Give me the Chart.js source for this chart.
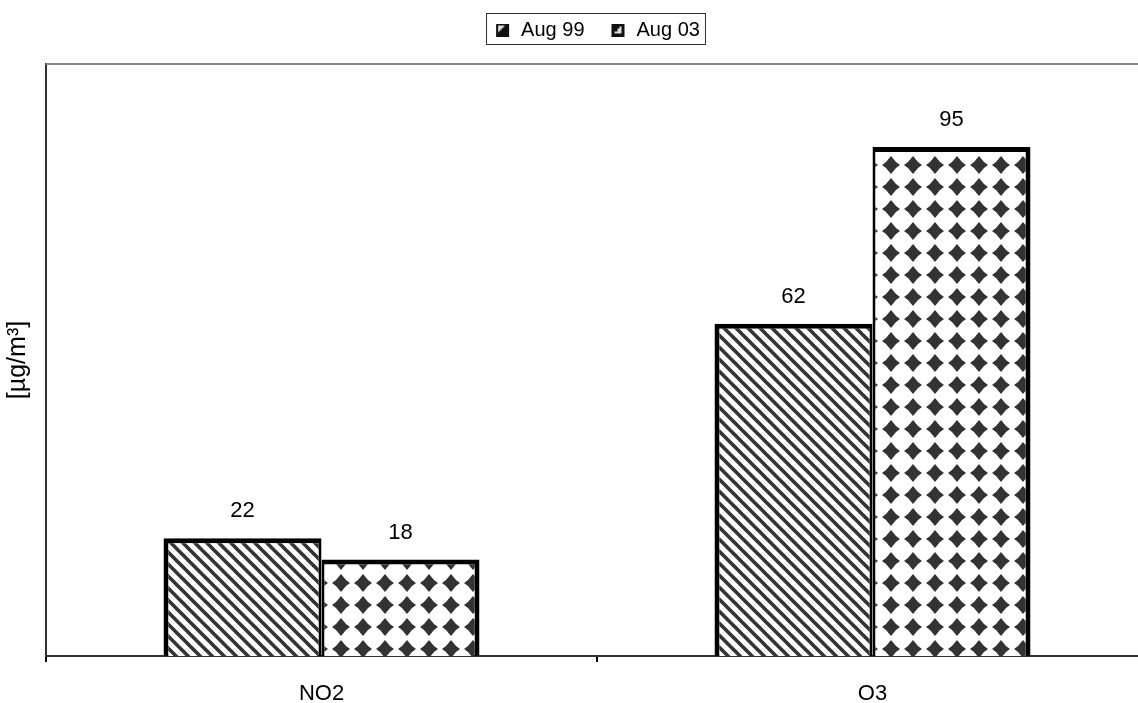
<!DOCTYPE html>
<html>
<head>
<meta charset="utf-8">
<script src="https://cdn.jsdelivr.net/npm/chart.js@4.4.0/dist/chart.umd.min.js"></script>
<style>
  html, body { margin: 0; padding: 0; background: #fff; overflow: hidden; }
  #wrap { width: 1138px; height: 703px; overflow: hidden; }
</style>
</head>
<body>
<div id="wrap"><canvas id="chart" width="1150" height="703"></canvas></div>
<script>
// data
const categories = ['NO2', 'O3'];
const seriesNames = ['Aug 99', 'Aug 03'];
const aug99 = [22, 62];
const aug03 = [18, 95];
const yMax = 110.5;

const FONT = '"Liberation Sans", Arial, sans-serif';

// hatch: diagonal stripes (top-left to bottom-right)
function makeStripes() {
    const c = document.createElement('canvas');
    c.width = 12; c.height = 12;
    const g = c.getContext('2d');
    g.fillStyle = '#fff';
    g.fillRect(0, 0, 12, 12);
    g.strokeStyle = '#333';
    g.lineWidth = 3.6;
    [-12, 0, 12].forEach(function(o) {
        g.beginPath();
        g.moveTo(o - 2, -2);
        g.lineTo(o + 14, 14);
        g.stroke();
    });
    return c;
}

// dotted diamonds on a square grid
function makeDiamonds() {
    const c = document.createElement('canvas');
    c.width = 22; c.height = 22;
    const g = c.getContext('2d');
    g.fillStyle = '#fff';
    g.fillRect(0, 0, 22, 22);
    g.fillStyle = '#333';
    g.beginPath();
    g.moveTo(11, 2);
    g.lineTo(16, 8);
    g.lineTo(20, 11);
    g.lineTo(16, 14);
    g.lineTo(11, 20);
    g.lineTo(6, 14);
    g.lineTo(2, 11);
    g.lineTo(6, 8);
    g.closePath();
    g.fill();
    return c;
}

// little legend swatches, with some room on the left
function makeSwatch(kind) {
    const c = document.createElement('canvas');
    c.width = 17; c.height = 13;
    const g = c.getContext('2d');
    g.translate(2, 0);
    g.fillStyle = '#111';
    g.fillRect(0, 0, 13, 13);
    g.fillStyle = '#ddd';
    g.beginPath();
    if (kind === 0) {
        g.moveTo(2, 2); g.lineTo(9, 2); g.lineTo(2, 9);
    } else {
        g.moveTo(10, 3); g.lineTo(10, 10); g.lineTo(3, 10); g.lineTo(3, 8);
        g.lineTo(6, 8); g.lineTo(6, 5); g.lineTo(8, 5); g.lineTo(8, 3);
    }
    g.closePath();
    g.fill();
    return c;
}

const ctx = document.getElementById('chart').getContext('2d');
const stripes = ctx.createPattern(makeStripes(), 'repeat');
const diamonds = ctx.createPattern(makeDiamonds(), 'repeat');
const swatches = [makeSwatch(0), makeSwatch(1)];

const valueLabels = {
    id: 'valueLabels',
    afterDatasetsDraw(chart) {
        const g = chart.ctx;
        g.save();
        g.font = '22px ' + FONT;
        g.fillStyle = '#000';
        g.textAlign = 'center';
        g.textBaseline = 'middle';
        chart.data.datasets.forEach(function(ds, i) {
            chart.getDatasetMeta(i).data.forEach(function(bar, j) {
                g.fillText(String(ds.data[j]), bar.x, bar.y - 27);
            });
        });
        g.restore();
    }
};

const frame = {
    id: 'frame',
    afterDraw(chart) {
        const g = chart.ctx;
        const a = chart.chartArea;
        g.save();
        g.strokeStyle = '#888';
        g.lineWidth = 2;
        g.beginPath();
        g.moveTo(a.left, a.top);
        g.lineTo(a.right, a.top);
        g.stroke();
        // box round the legend
        const hb = chart.legend.legendHitBoxes;
        if (hb && hb.length) {
            const first = hb[0], last = hb[hb.length - 1];
            const x0 = Math.round(first.left - 8) + 0.5;
            const x1 = Math.round(last.left + last.width + 5) + 0.5;
            g.strokeStyle = '#333';
            g.lineWidth = 1;
            g.strokeRect(x0, 13.5, x1 - x0, 31);
        }
        g.restore();
    }
};

new Chart(ctx, {
    type: 'bar',
    data: {
        labels: categories,
        datasets: [{
            label: seriesNames[0],
            data: aug99,
            backgroundColor: stripes,
            borderColor: '#000',
            borderWidth: { top: 5, left: 5, right: 3, bottom: 0 }
        }, {
            label: seriesNames[1],
            data: aug03,
            backgroundColor: diamonds,
            borderColor: '#000',
            borderWidth: { top: 5, left: 3, right: 5, bottom: 0 }
        }]
    },
    options: {
        responsive: false,
        animation: false,
        layout: { padding: { top: -5, right: 2, left: 0, bottom: 0 } },
        datasets: {
            bar: { barPercentage: 1, categoryPercentage: 0.5735 }
        },
        plugins: {
            tooltip: { enabled: false },
            // empty title used only as a spacer below the legend
            title: {
                display: true,
                text: '',
                weight: 500,
                fullSize: false,
                font: { size: 10 },
                padding: 1
            },
            legend: {
                position: 'top',
                fullSize: false,
                labels: {
                    usePointStyle: true,
                    boxWidth: 17,
                    boxHeight: 13,
                    padding: 25,
                    color: '#000',
                    font: { size: 20, family: FONT },
                    generateLabels(chart) {
                        return chart.data.datasets.map(function(ds, i) {
                            return {
                                text: ds.label,
                                pointStyle: swatches[i],
                                datasetIndex: i,
                                lineWidth: 0,
                                fontColor: '#000'
                            };
                        });
                    }
                }
            }
        },
        scales: {
            x: {
                offset: true,
                grid: {
                    display: true,
                    drawOnChartArea: false,
                    drawTicks: true,
                    tickLength: 6,
                    color: '#000',
                    lineWidth: 2
                },
                border: { display: true, color: '#333', width: 2 },
                ticks: {
                    color: '#000',
                    padding: 19,
                    font: { size: 22, family: FONT }
                },
                afterFit(scale) { scale.height = 47; }
            },
            y: {
                min: 0,
                max: yMax,
                grid: { display: false },
                border: { display: true, color: '#333', width: 2 },
                ticks: { display: false },
                title: {
                    display: true,
                    text: '[µg/m³]',
                    color: '#000',
                    padding: { top: 3, bottom: 0 },
                    font: { size: 25, family: FONT }
                },
                afterFit(scale) { scale.width = 46; }
            }
        }
    },
    plugins: [valueLabels, frame]
});
</script>
</body>
</html>
